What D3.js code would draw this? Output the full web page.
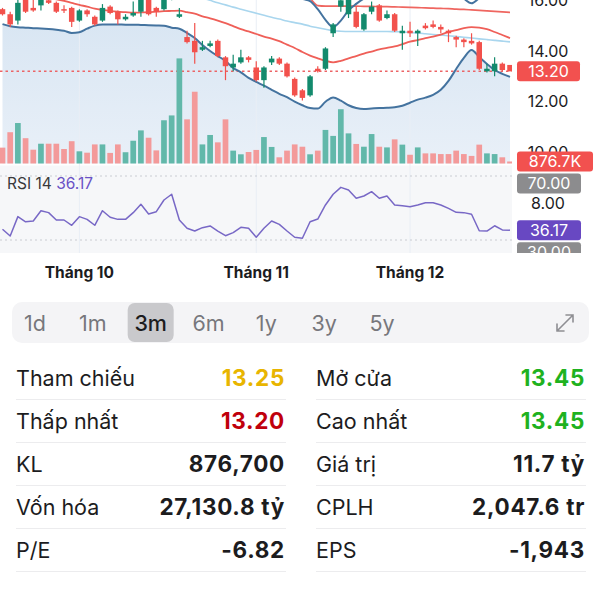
<!DOCTYPE html>
<html><head><meta charset="utf-8">
<script src="https://cdn.jsdelivr.net/npm/d3@7"></script>
<style>
html,body{margin:0;padding:0;background:#fff;}
svg{display:block;font-family:Inter,"Noto Sans",sans-serif;}
</style></head><body>
<svg id="c" width="600" height="600"></svg>
<script>
// ---- DATA (prices in thousand VND, volume in millions) ----
const openP  = [15.65,15.45,15.20,16.05,15.70,15.80,16.00,15.90,15.65,15.70, 15.20,15.60,15.35,15.20,15.75,15.55,15.25,15.40,15.55,16.05, 15.70,15.65,16.10,15.35,14.55,14.40,14.05,14.20,14.40,13.75, 13.35,13.55,13.75,13.35,12.85,13.55,13.70,13.50,12.90,12.45, 12.25,13.30,13.30,14.70,15.75,15.45,15.55,14.85,15.55,15.80, 15.30,15.45,14.70,14.80,14.70,15.00,15.05,14.95,14.80,14.55, 14.45,14.40,14.35,13.20,13.20,13.50,13.45];
const highP  = [15.70,15.55,16.10,16.15,16.05,16.15,16.10,15.95,15.80,15.75, 15.65,15.65,15.40,15.85,15.80,15.60,15.45,15.95,16.15,16.10, 15.75,16.15,16.40,15.70,14.80,15.10,14.40,14.40,14.45,13.80, 13.85,14.05,13.80,13.60,13.40,13.80,13.75,13.55,12.95,12.50, 13.05,13.40,14.15,15.10,16.10,16.15,15.75,15.50,15.95,15.85, 15.60,15.50,15.00,15.15,14.85,15.10,15.20,15.05,14.85,14.60, 14.50,14.70,14.40,13.50,13.75,13.55,13.45];
const lowP   = [15.40,14.95,15.05,15.50,15.55,15.60,15.85,15.50,15.50,14.95, 15.15,15.35,15.00,15.15,15.45,15.05,15.20,15.35,15.35,15.40, 15.35,15.60,16.00,15.30,14.30,13.50,14.00,14.15,13.75,12.85, 13.20,13.50,13.55,12.80,12.55,13.45,13.45,12.95,12.20,12.05, 12.20,13.15,13.25,14.55,15.55,15.30,14.90,14.80,15.45,15.15, 15.25,14.75,14.05,14.55,14.20,14.85,14.90,14.70,14.35,14.15, 14.15,14.25,13.25,13.15,13.00,13.20,13.20];
const closeP = [15.45,15.05,15.90,15.55,15.60,16.10,15.90,15.55,15.60,15.15, 15.60,15.45,15.05,15.70,15.50,15.25,15.35,15.50,16.05,15.45, 15.55,16.10,16.30,15.45,14.35,13.95,14.15,14.30,13.80,13.40, 13.50,13.75,13.65,12.85,13.35,13.70,13.50,13.00,12.25,12.15, 13.00,13.20,14.10,15.05,16.00,16.05,14.95,15.45,15.75,15.20, 15.45,14.80,14.80,14.70,14.80,14.90,14.95,14.85,14.70,14.45, 14.35,14.30,13.30,13.30,13.50,13.25,13.20];
const volumeM = [6.9,13.6,17.6,11.0,6.0,8.6,8.6,8.6,6.3,9.7, 5.3,4.7,8.3,8.3,4.6,8.3,4.9,9.9,14.4,11.2, 5.7,18.8,20.9,45.7,19.2,31.2,8.3,12.4,9.2,19.2, 5.6,4.0,5.0,5.9,11.5,7.2,2.7,5.6,8.3,7.3, 4.0,5.6,14.6,12.0,23.6,13.1,8.5,7.3,12.8,7.3, 7.0,10.5,8.2,3.8,7.0,4.4,4.4,4.1,4.1,5.6, 4.1,3.3,8.2,4.4,4.1,2.7,0.8767];
const bbUpper = [17.48,17.50,17.46,17.40,17.38,17.35,17.29,17.24,17.16,17.09, 16.90,16.62,16.34,16.19,16.12,16.08,16.07,16.07,16.08,16.10, 16.12,16.16,16.24,16.30,16.35,16.43,16.50,16.58,16.60,16.59, 16.63,16.56,16.60,16.56,16.51,16.51,16.47,16.32,16.24,16.06, 15.97,15.65,15.23,14.94,15.20,15.60,15.86,16.07,16.23,16.37, 16.48,16.58,16.70,16.78,16.78,16.86,16.87,16.83,16.68,16.35, 16.07,15.88,16.08,16.23,16.25,16.16,16.08];
const bbMid = [16.27,16.24,16.20,16.16,16.14,16.12,16.08,16.04,15.98,15.90, 15.82,15.75,15.67,15.62,15.58,15.55,15.53,15.51,15.52,15.53, 15.55,15.57,15.58,15.59,15.53,15.47,15.37,15.29,15.20,15.10, 14.98,14.86,14.77,14.67,14.57,14.49,14.39,14.25,14.12,13.96, 13.82,13.71,13.61,13.55,13.61,13.71,13.80,13.90,13.98,14.06, 14.12,14.18,14.27,14.37,14.43,14.51,14.57,14.65,14.75,14.82, 14.90,14.94,14.92,14.86,14.75,14.63,14.51];
const bbLower = [15.06,14.98,14.94,14.92,14.90,14.89,14.87,14.84,14.80,14.71, 14.74,14.88,15.00,15.05,15.05,15.05,15.04,15.04,15.03,15.02, 15.01,15.00,14.92,14.88,14.71,14.51,14.24,14.00,13.80,13.61, 13.33,13.16,12.94,12.78,12.63,12.47,12.31,12.18,12.00,11.86, 11.75,11.73,12.00,12.17,12.04,11.86,11.75,11.71,11.73,11.75, 11.76,11.78,11.84,11.96,12.08,12.16,12.27,12.47,12.82,13.29, 13.73,14.04,13.76,13.49,13.25,13.10,12.98];
const maRed = [17.62,17.60,17.58,17.57,17.55,17.52,17.50,17.49,17.47,17.45, 17.42,17.40,17.37,17.35,17.33,17.30,17.27,17.25,17.24,17.22, 17.20,17.19,17.18,17.16,17.12,17.08,17.05,17.02,16.98,16.95, 16.92,16.90,16.88,16.86,16.84,16.82,16.80,16.78,16.72,16.40, 16.08,15.79,15.77,15.77,15.77,15.77,15.77,15.76,15.76,15.75, 15.75,15.74,15.73,15.72,15.71,15.70,15.69,15.68,15.67,15.65, 15.64,15.62,15.60,15.58,15.56,15.54,15.52];
const maBlue = [17.55,17.53,17.50,17.48,17.46,17.44,17.41,17.39,17.37,17.35, 17.32,17.28,17.24,17.20,17.16,17.12,17.06,17.00,16.94,16.88, 16.80,16.72,16.62,16.50,16.38,16.24,16.10,16.00,15.90,15.82, 15.73,15.65,15.57,15.49,15.41,15.33,15.26,15.18,15.12,15.06, 14.98,14.92,14.86,14.80,14.78,14.77,14.77,14.77,14.77,14.77, 14.77,14.76,14.75,14.73,14.71,14.68,14.65,14.63,14.60,14.57, 14.54,14.51,14.48,14.45,14.42,14.39,14.36];
const rsi14 = [36.7,32.5,44.6,41.4,41.9,48.3,47.1,42.5,42.5,39.2, 44.6,42.9,39.2,48.3,44.2,42.9,42.9,47.1,52.3,46.3, 47.7,55.0,58.6,42.5,37.3,35.6,37.7,38.8,35.6,32.7, 34.6,37.9,37.3,31.7,37.3,41.9,39.8,35.6,31.7,31.1, 41.4,43.1,51.9,58.6,62.9,61.3,56.1,57.5,60.2,56.1, 57.5,51.9,51.4,50.8,51.9,53.3,53.3,51.9,49.8,47.3, 47.1,46.1,35.8,35.6,38.9,36.3,36.17];
const priceTicks = [16, 14, 12, 10, 8];
const rsiLevels = [70, 30];
const monthIndex = [10, 33, 53];
const monthLabels = ["Tháng 10", "Tháng 11", "Tháng 12"];
const periods = ["1d","1m","3m","6m","1y","3y","5y"];
const selectedPeriod = "3m";
const statLabelsLeft  = ["Tham chiếu","Thấp nhất","KL","Vốn hóa","P/E"];
const statValuesLeft  = ["13.25","13.20","876,700","27,130.8 tỷ","-6.82"];
const statColorsLeft  = ["#e8b500","#c0000c","#1c1c1e","#1c1c1e","#1c1c1e"];
const statLabelsRight = ["Mở cửa","Cao nhất","Giá trị","CPLH","EPS"];
const statValuesRight = ["13.45","13.45","11.7 tỷ","2,047.6 tr","-1,943"];
const statColorsRight = ["#1fb21f","#1fb21f","#1c1c1e","#1c1c1e","#1c1c1e"];

// ---- LAYOUT ----
const svg = d3.select("#c");
const plotRight = 512, chartBottom = 253, volBase = 163.5;
const n = openP.length, idx = d3.range(n);
const x = d3.scaleLinear().domain([0, n-1]).range([2.5, 510]);
const y = d3.scaleLinear().domain([8, 16]).range([203.1, 0.3]);
const yv = d3.scaleLinear().domain([0, 50]).range([volBase, volBase - 115]);
const yr = d3.scaleLinear().domain([30, 70]).range([240, 176]);

const UP = "#138a6d", DOWN = "#f2514c", UPV = "#62b8aa", DOWNV = "#f39a9a";

const defs = svg.append("defs");
defs.append("clipPath").attr("id","plotClip").append("rect").attr("x",0).attr("y",0).attr("width",plotRight).attr("height",chartBottom);
defs.append("clipPath").attr("id","chartClip").append("rect").attr("x",0).attr("y",0).attr("width",600).attr("height",chartBottom);
const grad = defs.append("linearGradient").attr("id","fillGrad").attr("x1",0).attr("y1",0).attr("x2",0).attr("y2",1);
grad.append("stop").attr("offset","0%").attr("stop-color","#d9e6f3");
grad.append("stop").attr("offset","100%").attr("stop-color","#e9f0f8");

svg.append("rect").attr("width",600).attr("height",600).attr("fill","#fff");

const plot = svg.append("g").attr("clip-path","url(#plotClip)");
plot.append("rect").attr("x",0).attr("y",volBase+2).attr("width",plotRight).attr("height",chartBottom-volBase-2).attr("fill","#f6f7f9");
plot.append("path").datum(idx)
  .attr("d", d3.area().x(i=>x(i)).y0(volBase).y1(i=>y(bbLower[i])).curve(d3.curveMonotoneX))
  .attr("fill","url(#fillGrad)");
plot.selectAll(".vg").data(monthIndex).join("line")
  .attr("x1",d=>x(d)).attr("x2",d=>x(d)).attr("y1",0).attr("y2",chartBottom)
  .attr("stroke","#e9eef5").attr("stroke-width",1);
const lastClose = closeP[n-1];
plot.append("line").attr("x1",0).attr("x2",plotRight).attr("y1",y(lastClose)).attr("y2",y(lastClose))
  .attr("stroke","#ec6466").attr("stroke-width",1.6).attr("stroke-dasharray","2.5,3");
const bw = 5.7;
plot.selectAll(".vb").data(idx).join("rect")
  .attr("x",i=>x(i)-bw/2).attr("width",bw)
  .attr("y",i=>yv(volumeM[i])).attr("height",i=>volBase-yv(volumeM[i]))
  .attr("fill",i=>closeP[i]>=openP[i]?UPV:DOWNV);
function drawLine(arr, color, w){
  plot.append("path").datum(idx)
    .attr("d", d3.line().x(i=>x(i)).y(i=>y(arr[i])).curve(d3.curveMonotoneX))
    .attr("fill","none").attr("stroke",color).attr("stroke-width",w).attr("stroke-linejoin","round");
}
drawLine(maBlue, "#a9d6ee", 1.6);
drawLine(maRed, "#ef6660", 1.7);
drawLine(bbMid, "#ef5f58", 1.8);
drawLine(bbUpper, "#44739f", 2);
drawLine(bbLower, "#44739f", 2);
const cw = 5.5;
const cg = plot.selectAll(".cd").data(idx).join("g");
cg.append("line").attr("x1",i=>x(i)).attr("x2",i=>x(i))
  .attr("y1",i=>y(highP[i])).attr("y2",i=>y(lowP[i]))
  .attr("stroke",i=>closeP[i]>=openP[i]?UP:DOWN).attr("stroke-width",1.2);
cg.append("rect").attr("x",i=>x(i)-cw/2).attr("width",cw)
  .attr("y",i=>y(Math.max(openP[i],closeP[i])))
  .attr("height",i=>Math.max(1.5, Math.abs(y(openP[i])-y(closeP[i]))))
  .attr("fill",i=>closeP[i]>=openP[i]?UP:DOWN);
plot.selectAll(".rl").data(rsiLevels).join("line")
  .attr("x1",0).attr("x2",plotRight).attr("y1",d=>yr(d)).attr("y2",d=>yr(d))
  .attr("stroke","#c9ccd2").attr("stroke-width",1).attr("stroke-dasharray","2,3");
plot.append("path").datum(idx)
  .attr("d", d3.line().x(i=>x(i)).y(i=>yr(rsi14[i])))
  .attr("fill","none").attr("stroke","#7868c6").attr("stroke-width",1.5).attr("stroke-linejoin","round");
const rsiTitle = plot.append("text").attr("x",7).attr("y",189).attr("font-size",15.5);
rsiTitle.append("tspan").attr("fill","#3a3a3c").text("RSI 14 ");
rsiTitle.append("tspan").attr("fill","#6a52c6").text(rsi14[n-1].toFixed(2));

const axisG = svg.append("g").attr("clip-path","url(#chartClip)");
axisG.selectAll(".pt").data(priceTicks).join("text")
  .attr("x",548).attr("y",d=>y(d)).attr("dy","0.36em").attr("text-anchor","middle")
  .attr("font-size",16).attr("fill","#1c1c1e").text(d=>d.toFixed(2));
axisG.append("rect").attr("x",517).attr("y",y(lastClose)-10).attr("width",63).attr("height",20).attr("rx",3).attr("fill","#f2514f");
axisG.append("text").attr("x",548.5).attr("y",y(lastClose)).attr("dy","0.36em").attr("text-anchor","middle")
  .attr("font-size",16).attr("fill","#fff").text(lastClose.toFixed(2));
const stack = [
  {t:(volumeM[n-1]*1000).toFixed(1)+"K", cy:yv(volumeM[n-1]), c:"#f2514f", w:76},
  {t:(70).toFixed(2), cy:yr(70), c:"#8c8c8e", w:64},
  {t:rsi14[n-1].toFixed(2), cy:yr(rsi14[n-1]), c:"#6848c2", w:64},
  {t:(30).toFixed(2), cy:yr(30), c:"#8c8c8e", w:64}
];
let prevBottom = -1e9;
stack.forEach(l=>{
  const top = Math.max(l.cy-10, prevBottom+2);
  prevBottom = top+20;
  axisG.append("rect").attr("x",517).attr("y",top).attr("width",l.w).attr("height",20).attr("rx",3).attr("fill",l.c);
  axisG.append("text").attr("x",517+l.w/2).attr("y",top+10).attr("dy","0.36em").attr("text-anchor","middle")
    .attr("font-size",16).attr("fill","#fff").text(l.t);
});

svg.selectAll(".ml").data(monthIndex).join("text")
  .attr("x",d=>x(d)).attr("y",272).attr("dy","0.36em").attr("text-anchor","middle")
  .attr("font-size",15.5).attr("font-weight",700).attr("fill","#1c1c1e")
  .text((d,i)=>monthLabels[i]);

svg.append("rect").attr("x",12).attr("y",302).attr("width",577).attr("height",41).attr("rx",10).attr("fill","#f4f4f6");
const px = d3.scalePoint().domain(periods).range([35, 382]);
svg.append("rect").attr("x",px(selectedPeriod)-23).attr("y",303).attr("width",46).attr("height",39).attr("rx",7).attr("fill","#c9c9cc");
svg.selectAll(".pd").data(periods).join("text")
  .attr("x",d=>px(d)).attr("y",323).attr("dy","0.36em").attr("text-anchor","middle")
  .attr("font-size",21.5).attr("fill",d=>d===selectedPeriod?"#1c1c1e":"#77777c")
  .attr("font-weight",d=>d===selectedPeriod?500:400).text(d=>d);
svg.append("path").attr("d","M557,331 L573,315 M557,324 L557,331 L564,331 M566,315 L573,315 L573,322")
  .attr("fill","none").attr("stroke","#8e8e93").attr("stroke-width",1.6).attr("stroke-linecap","round");

const rowY = d3.scaleLinear().domain([0,4]).range([378,550]);
function drawCol(labels, values, colors, x0, x1){
  labels.forEach((lab,i)=>{
    svg.append("text").attr("x",x0).attr("y",rowY(i)).attr("dy","0.36em")
      .attr("font-size",21.5).attr("fill","#1c1c1e").text(lab);
    svg.append("text").attr("x",x1).attr("y",rowY(i)).attr("dy","0.36em").attr("text-anchor","end")
      .attr("font-size",22.5).attr("font-weight",700).attr("letter-spacing",0.7).attr("fill",colors[i]).text(values[i]);
    svg.append("line").attr("x1",x0).attr("x2",x1+1).attr("y1",rowY(i)+21.5).attr("y2",rowY(i)+21.5)
      .attr("stroke","#ececee").attr("stroke-width",1);
  });
}
drawCol(statLabelsLeft, statValuesLeft, statColorsLeft, 16, 285);
drawCol(statLabelsRight, statValuesRight, statColorsRight, 316, 585);
</script>
</body></html>
